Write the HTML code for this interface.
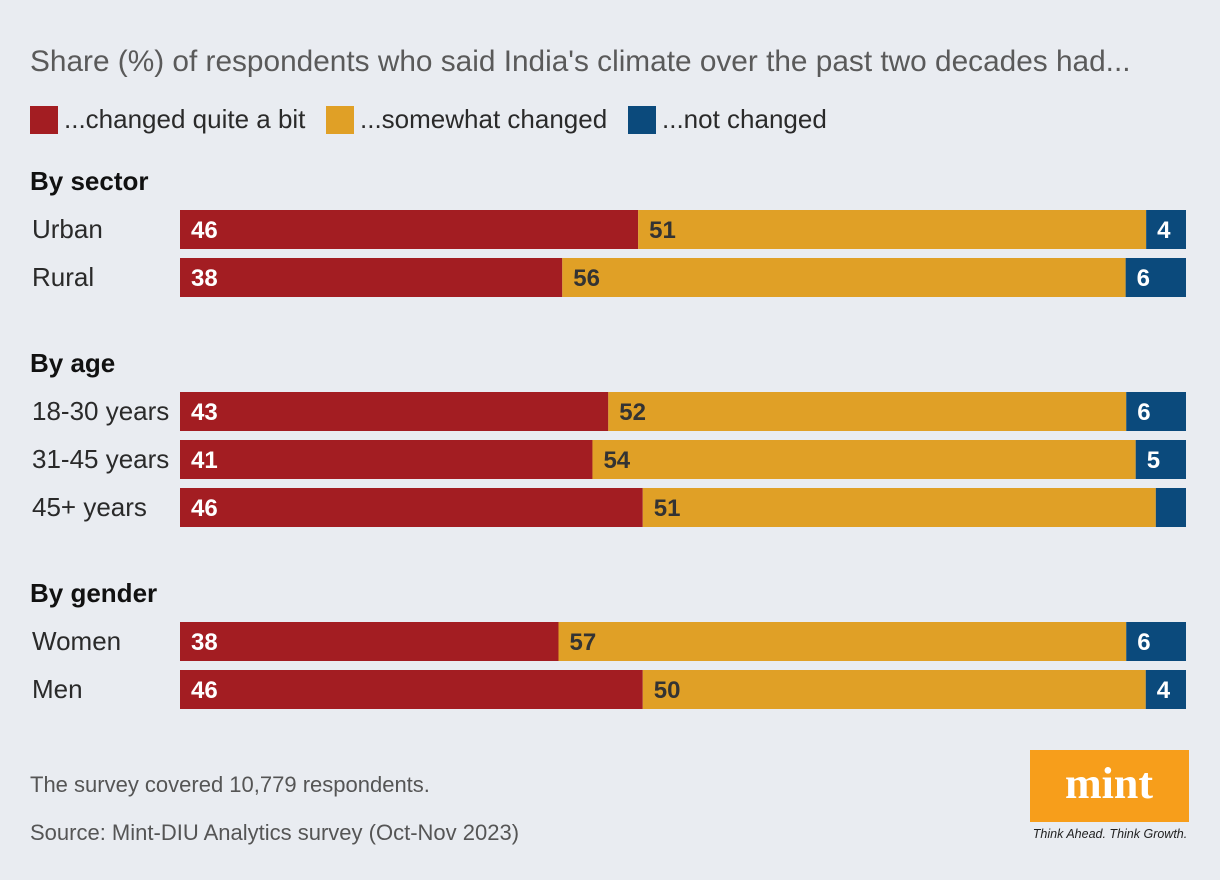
<!DOCTYPE html>
<html><head><meta charset="utf-8"><style>
body{margin:0;background:#e9ecf1;font-family:"Liberation Sans",sans-serif}
svg{display:block}
</style></head><body>
<svg id="chart" width="1220" height="880" xmlns="http://www.w3.org/2000/svg">
<rect width="1220" height="880" fill="#e9ecf1"/>
<text x="30" y="71" font-size="29.8" fill="#5a5a5a" font-weight="300">Share (%) of respondents who said India's climate over the past two decades had...</text>
<g font-size="26" fill="#2a2a2a">
<rect x="30" y="106" width="28" height="28" fill="#a31d22"/>
<text x="64" y="128">...changed quite a bit</text>
<rect x="326" y="106" width="28" height="28" fill="#e0a026"/>
<text x="360" y="128">...somewhat changed</text>
<rect x="628" y="106" width="28" height="28" fill="#0b4a7c"/>
<text x="662" y="128">...not changed</text>
</g>
<g id="bars"></g>
<text x="30" y="792" font-size="22" fill="#555">The survey covered 10,779 respondents.</text>
<text x="30" y="840" font-size="22" fill="#555">Source: Mint-DIU Analytics survey (Oct-Nov 2023)</text>
<g>
<rect x="1030" y="750" width="159" height="72" fill="#f79e1b"/>
<text x="1109" y="798" text-anchor="middle" font-family="Liberation Serif,serif" font-weight="bold" font-size="44" fill="#fff">mint</text>
<text x="1110" y="838" text-anchor="middle" font-size="12.5" font-style="italic" fill="#222">Think Ahead. Think Growth.</text>
</g>
</svg>
<script>
const categories=["Urban","Rural","18-30 years","31-45 years","45+ years","Women","Men"];
const changedVals=[46,38,43,41,46,38,46];
const somewhatVals=[51,56,52,54,51,57,50];
const notVals=[4,6,6,5,3,6,4];
const notLabels=["4","6","6","5","","6","4"];
const groups=["By sector","By age","By gender"];
const groupOf=[0,0,1,1,1,2,2];
const rowY=[210,258,392,440,488,622,670];
const groupY=[190,372,602];
const X0=180,W=1006,H=39;
const colors=["#a31d22","#e0a026","#0b4a7c"];
const txtCol=["#fff","#333","#fff"];
const names=["changed","somewhat","not"];
const ns="http://www.w3.org/2000/svg";
const g=document.getElementById('bars');
function xs(v,t){return v/t*W;}
function mk(tag,a){const e=document.createElementNS(ns,tag);for(const k in a)e.setAttribute(k,a[k]);g.appendChild(e);return e;}
groups.forEach((gn,i)=>{
 const t=mk('text',{x:30,y:groupY[i],'font-size':26,'font-weight':'bold',fill:'#111'});
 
 
 t.textContent=gn;
});
categories.forEach((c,i)=>{
 const y=rowY[i];
 const lab=mk('text',{x:32,y:y+28,'font-size':26,fill:'#2a2a2a'});
 
 
 lab.textContent=c;
 const vals=[changedVals[i],somewhatVals[i],notVals[i]];
 const labs=[String(changedVals[i]),String(somewhatVals[i]),notLabels[i]];
 const tot=vals[0]+vals[1]+vals[2];
 let x=X0;
 vals.forEach((v,j)=>{
  const w=xs(v,tot);
  const r=mk('rect',{x:x,y:y,width:w,height:H,fill:colors[j]});
  
  
  if(labs[j]){
   const t=mk('text',{x:x+11,y:y+28,'font-size':24,'font-weight':'bold',fill:txtCol[j]});
   
   
   t.textContent=labs[j];
  }
  x+=w;
 });
});
</script>
</body></html>
